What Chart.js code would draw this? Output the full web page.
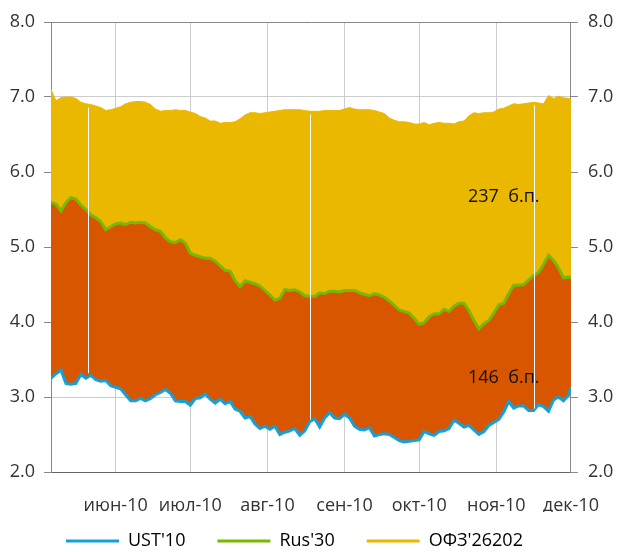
<!DOCTYPE html>
<html>
<head>
<meta charset="utf-8">
<script src="https://cdn.jsdelivr.net/npm/chart.js@4.4.0/dist/chart.umd.min.js"></script>
<style>
  html, body { margin: 0; padding: 0; background: #fff; }
</style>
</head>
<body>
<canvas id="grafico" width="622" height="552"></canvas>
<script>
// Дни от 1 мая 2010 (ось X)
const dias = [5,7,9,11,13,15,17,19,21,23,25,27,29,31,33,35,37,39,41,43,45,47,49,51,53,55,57,59,61,63,65,67,69,71,73,75,77,79,81,83,85,87,89,91,93,95,97,99,101,103,105,107,109,111,113,115,117,119,121,123,125,127,129,131,133,135,137,139,141,143,145,147,149,151,153,155,157,159,161,163,165,167,169,171,173,175,177,179,181,183,185,187,189,191,193,195,197,199,201,203,205,207,209,211,213,214];

// Доходности, %
const ust10 = [3.25,3.31,3.36,3.18,3.17,3.18,3.30,3.25,3.29,3.23,3.21,3.22,3.15,3.13,3.11,3.03,2.95,2.95,2.98,2.95,2.98,3.03,3.06,3.10,3.05,2.95,2.94,2.94,2.89,2.98,2.99,3.04,2.97,2.92,2.97,2.91,2.94,2.84,2.81,2.72,2.74,2.64,2.58,2.61,2.57,2.61,2.50,2.53,2.55,2.58,2.49,2.55,2.67,2.71,2.60,2.72,2.79,2.72,2.71,2.77,2.72,2.61,2.57,2.56,2.59,2.48,2.50,2.51,2.50,2.46,2.42,2.40,2.41,2.42,2.43,2.54,2.51,2.49,2.54,2.55,2.58,2.69,2.65,2.60,2.62,2.56,2.50,2.54,2.62,2.66,2.70,2.80,2.94,2.85,2.88,2.88,2.82,2.82,2.90,2.87,2.81,2.96,3.00,2.95,3.02,3.13];
const rus30 = [5.60,5.57,5.48,5.59,5.66,5.64,5.56,5.50,5.43,5.39,5.34,5.23,5.27,5.31,5.32,5.30,5.33,5.32,5.33,5.32,5.27,5.23,5.21,5.12,5.07,5.06,5.10,5.05,4.92,4.89,4.87,4.85,4.85,4.81,4.75,4.69,4.68,4.55,4.47,4.55,4.53,4.51,4.48,4.42,4.36,4.29,4.32,4.43,4.42,4.43,4.40,4.35,4.34,4.34,4.39,4.38,4.41,4.41,4.40,4.42,4.42,4.42,4.39,4.37,4.35,4.38,4.36,4.33,4.28,4.22,4.16,4.14,4.12,4.05,3.97,3.99,4.07,4.11,4.11,4.17,4.14,4.21,4.25,4.25,4.15,4.02,3.91,3.98,4.02,4.12,4.23,4.25,4.38,4.49,4.49,4.50,4.56,4.62,4.66,4.77,4.89,4.82,4.72,4.59,4.60,4.59];
const ofz26202 = [7.10,6.95,6.99,7.00,7.00,6.98,6.93,6.91,6.90,6.88,6.86,6.82,6.83,6.85,6.87,6.91,6.93,6.94,6.94,6.93,6.90,6.84,6.81,6.82,6.82,6.83,6.82,6.82,6.80,6.78,6.74,6.72,6.68,6.68,6.65,6.66,6.66,6.67,6.71,6.76,6.79,6.79,6.78,6.79,6.80,6.81,6.82,6.83,6.83,6.83,6.83,6.82,6.81,6.81,6.81,6.82,6.82,6.82,6.82,6.84,6.86,6.84,6.83,6.83,6.83,6.82,6.80,6.78,6.72,6.69,6.67,6.67,6.66,6.64,6.64,6.66,6.63,6.65,6.66,6.65,6.65,6.64,6.67,6.68,6.75,6.79,6.78,6.79,6.79,6.80,6.84,6.85,6.88,6.91,6.90,6.91,6.92,6.93,6.92,6.91,7.02,6.98,7.01,6.99,6.98,6.97];

// Подписи месяцев и их положение (первое число месяца)
const mesesDias = [31, 61, 92, 123, 153, 184, 214];
const mesesEtiquetas = ['июн-10', 'июл-10', 'авг-10', 'сен-10', 'окт-10', 'ноя-10', 'дек-10'];

// Деления оси Y
const yTicks = [2, 3, 4, 5, 6, 7, 8];

// Белые разрывы на графике (дни)
const diasCorte = [20, 109, 199];

// Подписи спредов
const spreadTextos = ['237  б.п.', '146  б.п.'];
const spreadDia = [187, 187];
const spreadNivel = [5.67, 3.26];

const colorUST = '#16a0d9';
const colorRus = '#76b900';
const colorOFZ = '#ebb800';
const colorNaranja = '#d95600';

Chart.defaults.font.family = "'Open Sans', sans-serif";
Chart.defaults.font.size = 18;
Chart.defaults.color = '#333';

function pares(valores) {
  return dias.map((d, i) => ({ x: d, y: valores[i] }));
}

// Белые вертикальные линии и подписи спредов
const extras = {
  id: 'extras',
  afterLayout(chart) {
    // сдвигаем легенду на место (и не даём ей обрезать текст)
    const lg = chart.legend;
    lg.left += 34;
    lg.top -= 12;
    lg.bottom = chart.height;
  },
  afterDatasetsDraw(chart) {
    const ctx = chart.ctx;
    const xs = chart.scales.x, ys = chart.scales.y;
    ctx.save();
    ctx.strokeStyle = '#ffffff';
    ctx.lineWidth = 1;
    diasCorte.forEach(d => {
      let i = 0;
      while (i < dias.length - 1 && dias[i] < d) i++;
      const x = Math.round(xs.getPixelForValue(d)) + 0.5;
      ctx.beginPath();
      ctx.moveTo(x, ys.getPixelForValue(ofz26202[i]) + 3);
      ctx.lineTo(x, ys.getPixelForValue(ust10[i]) - 2);
      ctx.stroke();
    });
    ctx.fillStyle = '#111';
    ctx.textAlign = 'center';
    ctx.textBaseline = 'middle';
    ctx.font = "18px 'Open Sans', sans-serif";
    spreadTextos.forEach((t, i) => {
      ctx.fillText(t, xs.getPixelForValue(spreadDia[i]), ys.getPixelForValue(spreadNivel[i]));
    });
    ctx.restore();
  }
};

new Chart(document.getElementById('grafico'), {
  type: 'line',
  data: {
    datasets: [
      {
        label: "UST'10",
        data: pares(ust10),
        borderColor: colorUST,
        backgroundColor: colorUST,
        borderWidth: 3,
        fill: false
      },
      {
        label: "Rus'30",
        data: pares(rus30),
        borderColor: colorRus,
        backgroundColor: colorNaranja,
        borderWidth: 3,
        fill: '-1'
      },
      {
        label: "ОФЗ'26202",
        data: pares(ofz26202),
        borderColor: colorOFZ,
        backgroundColor: colorOFZ,
        borderWidth: 1,
        fill: '-1'
      }
    ]
  },
  options: {
    responsive: false,
    animation: false,
    elements: { point: { radius: 0 }, line: { tension: 0 } },
    layout: { padding: { top: 22, left: 0, right: 0, bottom: 0 } },
    plugins: {
      tooltip: { enabled: false },
      legend: {
        position: 'bottom',
        align: 'start',
        maxHeight: 40,
        labels: {
          boxWidth: 53,
          boxHeight: 3,
          padding: 32,
          color: '#333',
          generateLabels(chart) {
            return chart.data.datasets.map((ds, i) => ({
              text: ds.label,
              fillStyle: ds.borderColor,
              strokeStyle: ds.borderColor,
              lineWidth: 0,
              datasetIndex: i
            }));
          }
        }
      }
    },
    scales: {
      x: {
        type: 'linear',
        min: 5,
        max: 214,
        afterBuildTicks(s) { s.ticks = mesesDias.map(v => ({ value: v })); },
        afterFit(s) { s.height = 40; },
        ticks: {
          autoSkip: false,
          maxRotation: 0,
          padding: 23,
          callback: v => mesesEtiquetas[mesesDias.indexOf(v)]
        },
        grid: { color: '#cdcdcd', drawTicks: false },
        border: { color: '#666' }
      },
      y: {
        position: 'left',
        min: 2,
        max: 8,
        afterBuildTicks(s) { s.ticks = yTicks.map(v => ({ value: v })); },
        afterFit(s) { s.width = 51; },
        ticks: { padding: 9, callback: v => v.toFixed(1) },
        grid: {
          color: c => (c.tick && (c.tick.value === 8 || c.tick.value === 2)) ? '#888' : '#cdcdcd',
          tickColor: '#888',
          tickLength: 7
        },
        border: { color: '#888' }
      },
      y2: {
        position: 'right',
        min: 2,
        max: 8,
        afterBuildTicks(s) { s.ticks = yTicks.map(v => ({ value: v })); },
        afterFit(s) { s.width = 46; },
        ticks: { padding: 10, callback: v => v.toFixed(1) },
        grid: { drawOnChartArea: false, tickColor: '#888', tickLength: 7 },
        border: { color: '#888' }
      }
    }
  },
  plugins: [extras]
});
</script>
</body>
</html>
